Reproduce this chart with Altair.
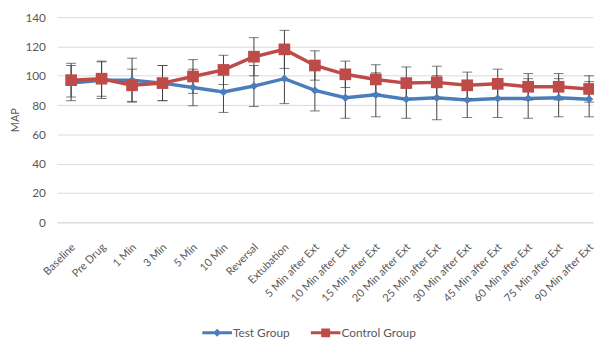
import altair as alt
import pandas as pd

times = ["Baseline", "Pre Drug", "1 Min", "3 Min", "5 Min", "10 Min", "Reversal", "Extubation",
         "5 Min after Ext", "10 Min after Ext", "15 Min after Ext", "20 Min after Ext",
         "25 Min after Ext", "30 Min after Ext", "45 Min after Ext", "60 Min after Ext",
         "75 Min after Ext", "90 Min after Ext"]
groups = ["Test Group", "Control Group"]
test_mean = [95, 97, 97, 95, 92, 89, 93, 98, 90, 85, 87, 84, 85, 83.5, 84.5, 84.5, 85, 84]
test_sd = [12, 12.5, 15, 12, 12.5, 14, 14, 17, 14, 14, 15, 13, 15, 12, 13, 13.5, 13, 12]
control_mean = [97, 98, 93.5, 95, 99.5, 104, 113, 118, 107, 101, 97.5, 95, 95.5, 93.5, 94.5, 92.5, 92.5, 91]
control_sd = [11.5, 12, 11, 12, 11.5, 10, 13, 13, 10, 9, 10, 11, 11, 9, 10, 9, 9, 9]
y_ticks = [0, 20, 40, 60, 80, 100, 120, 140]

colors = ["#4A7EBB", "#BE4B48"]
FONT = "Lato"
TXT = "#595959"

rows = []
for g, means, sds in [(groups[0], test_mean, test_sd), (groups[1], control_mean, control_sd)]:
    for t, m, s in zip(times, means, sds):
        rows.append({"time": t, "group": g, "mean": m, "sd": s})
df = pd.DataFrame(rows)

base = alt.Chart(df).transform_calculate(
    lo="datum.mean - datum.sd", hi="datum.mean + datum.sd"
)

x_axis = alt.Axis(labelAngle=-45, labelFontSize=11, labelColor=TXT, labelFont=FONT,
                  domainColor="#D9D9D9", ticks=False, grid=False, labelPadding=19,
                  labelOffset=-2)
x_scale = alt.Scale(type="point", padding=0.29, align=0.78)
y_axis = alt.Axis(values=y_ticks, domain=False, ticks=False, gridColor="#D9D9D9",
                  labelOverlap=False,
                  labelFontSize=12, labelColor=TXT, labelFont=FONT, labelPadding=12,
                  titleFontSize=11, titleColor=TXT, titleFont=FONT,
                  titleFontWeight="normal", titlePadding=4)
y_scale = alt.Scale(domain=[0, 140], nice=False)


def X():
    return alt.X("time:N", sort=times, title=None, scale=x_scale, axis=x_axis)


def Y(field):
    return alt.Y(field, title="MAP", scale=y_scale, axis=y_axis)


color_enc = alt.Color("group:N", scale=alt.Scale(domain=groups, range=colors), legend=None)

lines = base.mark_line(strokeWidth=3.5).encode(x=X(), y=Y("mean:Q"), color=color_enc)
err_rule = base.mark_rule(color="#404040", strokeWidth=1).encode(
    x=X(), y=Y("lo:Q"), y2="hi:Q")
err_lo = base.mark_tick(color="#404040", thickness=1, size=10, orient="horizontal").encode(
    x=X(), y=Y("lo:Q"))
err_hi = base.mark_tick(color="#404040", thickness=1, size=10, orient="horizontal").encode(
    x=X(), y=Y("hi:Q"))
points = base.mark_point(filled=True, opacity=1).encode(
    x=X(), y=Y("mean:Q"), color=color_enc,
    shape=alt.Shape("group:N", scale=alt.Scale(domain=groups, range=["diamond", "square"]),
                    legend=None),
    size=alt.Size("group:N", scale=alt.Scale(domain=groups, range=[70, 140]), legend=None))

legend_paths = [
    "M-1,-0.1H1V0.1H-1Z M0,-0.27L0.27,0L0,0.27L-0.27,0Z",
    "M-1,-0.1H1V0.1H-1Z M-0.3,-0.3H0.3V0.3H-0.3Z",
]
leg = alt.Legend(title=None, orient="none", legendX=147, legendY=305, direction="horizontal",
                 symbolSize=900, symbolStrokeWidth=0, symbolOpacity=1, labelOffset=1,
                 columnPadding=21, labelFontSize=12, labelColor=TXT, labelFont=FONT, padding=0)
legend_layer = base.transform_filter("false").mark_point(filled=True, opacity=1).encode(
    x=X(), y=Y("mean:Q"),
    color=alt.Color("group:N", scale=alt.Scale(domain=groups, range=colors), legend=leg),
    shape=alt.Shape("group:N", scale=alt.Scale(domain=groups, range=legend_paths), legend=leg))

chart = alt.layer(lines, err_rule, err_lo, err_hi, points, legend_layer).resolve_scale(
    shape="independent", size="independent", color="independent"
).properties(
    width=543, height=208,
    autosize=alt.AutoSizeParams(type="none"),
    padding={"left": 50, "top": 7, "right": 1, "bottom": 116},
).configure_view(stroke=None)

chart.save("out.html", embed_options={"renderer": "svg", "actions": False})
